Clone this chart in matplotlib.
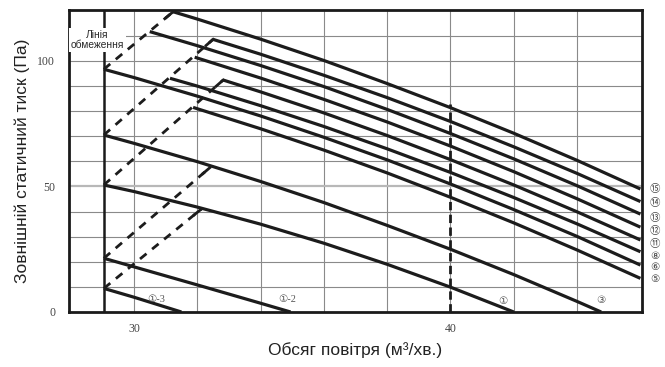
import matplotlib
matplotlib.use('Agg')
import matplotlib.pyplot as plt

# ---------------- data ----------------
x_tick_vals = [30, 40]
y_tick_vals = [0, 50, 100]
x_grid_vals = [30, 32, 34, 36, 38, 40, 42, 44]
y_grid_vals = [10, 20, 30, 40, 60, 70, 80, 90, 100, 110]
y_grid_light = [50]
limit_x = 29.05

# fan curves (air volume m3/min, external static pressure Pa)
c15_x = [31.24, 32, 34, 36, 38, 40, 42, 44, 46]
c15_y = [119.6, 116.7, 108.7, 100.2, 91.0, 81.4, 71.2, 60.4, 49.0]
c14_x = [32.5, 34, 36, 38, 40, 42, 44, 46]
c14_y = [108.6, 102.7, 94.3, 85.4, 75.9, 65.8, 55.2, 44.0]
c13_x = [30.5, 32, 34, 36, 38, 40, 42, 44, 46]
c13_y = [111.7, 106.1, 98.2, 89.8, 80.7, 71.1, 61.0, 50.3, 39.0]
c12_x = [31.92, 34, 36, 38, 40, 42, 44, 46]
c12_y = [101.5, 93.2, 84.7, 75.7, 66.1, 55.9, 45.1, 33.8]
c11_x = [32.82, 34, 36, 38, 40, 42, 44, 46]
c11_y = [92.4, 87.7, 79.3, 70.3, 60.7, 50.6, 39.9, 28.7]
c8_x = [31.14, 32, 34, 36, 38, 40, 42, 44, 46]
c8_y = [93.1, 90.0, 82.2, 73.9, 65.0, 55.6, 45.6, 35.1, 24.0]
c6_x = [29.05, 30, 32, 34, 36, 38, 40, 42, 44, 46]
c6_y = [96.7, 93.4, 86.0, 78.1, 69.6, 60.6, 51.0, 40.8, 30.1, 18.7]
c5_x = [31.87, 34, 36, 38, 40, 42, 44, 46]
c5_y = [81.5, 73.0, 64.5, 55.4, 45.7, 35.5, 24.7, 13.4]
c3_x = [29.05, 30, 32, 34, 36, 38, 40, 42, 44, 44.76]
c3_y = [70.5, 67.2, 59.9, 52.0, 43.6, 34.5, 25.0, 14.9, 4.2, 0]
c1_x = [29.05, 30, 32, 34, 36, 38, 40, 42]
c1_y = [50.6, 48.0, 41.8, 35.0, 27.4, 19.0, 9.9, 0]
c1b_x = [29.05, 30, 32, 34, 34.95]
c1b_y = [21.4, 18.0, 10.8, 3.5, 0]
c1c_x = [29.05, 30, 31.5]
c1c_y = [9.4, 5.9, 0]

curves_x = [c15_x, c14_x, c13_x, c12_x, c11_x, c8_x, c6_x, c5_x, c3_x, c1_x, c1b_x, c1c_x]
curves_y = [c15_y, c14_y, c13_y, c12_y, c11_y, c8_y, c6_y, c5_y, c3_y, c1_y, c1b_y, c1c_y]

# dashed limit lines (start on the limit line, end at a curve)
d1_x = [29.05, 31.24]; d1_y = [96.7, 119.6]
d2_x = [29.05, 32.5];  d2_y = [70.5, 108.6]
d3_x = [29.05, 32.82]; d3_y = [50.6, 92.4]
d4_x = [29.05, 32.4];  d4_y = [21.4, 57.5]
d5_x = [29.05, 32.13]; d5_y = [9.4, 41.0]
dashed_x = [d1_x, d2_x, d3_x, d4_x, d5_x]
dashed_y = [d1_y, d2_y, d3_y, d4_y, d5_y]
vdash_x = 40
vdash_top = 83

right_labels = ['⑮', '⑭', '⑬', '⑫', '⑪', '⑧', '⑥', '⑤']
right_label_y = [48.8, 43.6, 37.6, 32.4, 27.1, 22.3, 17.6, 13.1]
right_label_x = 46.45
bottom_labels = ['①-3', '①-2', '①', '③']
bottom_label_x = [30.7, 34.85, 41.67, 44.75]
bottom_label_y = [4.8, 4.8, 4.2, 4.5]

limit_text = 'Лінія\nобмеження'
xlabel = 'Обсяг повітря (м³/хв.)'
ylabel = 'Зовнішній статичний тиск (Па)'

# ---------------- drawing ----------------
fig = plt.figure(figsize=(6.65, 3.67), dpi=100)
ax = fig.add_axes([69/665, 1-312/367, (642-69)/665, (312-10)/367])
ax.set_xlim(27.95, 46.05)
ax.set_ylim(0, 120.3)

for gx in x_grid_vals:
    ax.axvline(gx, color='#8a8a8a', lw=0.8, zorder=1)
for gy in y_grid_vals:
    ax.axhline(gy, color='#8a8a8a', lw=0.8, zorder=1)
for gy in y_grid_light:
    ax.axhline(gy, color='#b8b8b8', lw=1.6, zorder=1)

ax.axvline(limit_x, color='#1a1a1a', lw=1.8, zorder=3)

line_col = '#1c1c1c'
for xs, ys in zip(curves_x, curves_y):
    ax.plot(xs, ys, color=line_col, lw=2.3, solid_capstyle='butt',
            solid_joinstyle='round', zorder=4)

for xs, ys in zip(dashed_x, dashed_y):
    ax.plot(xs, ys, color=line_col, lw=2.0, dashes=(3.0, 2.6), zorder=4)
    # short solid tick where the dashed line meets its curve
    fx = xs[1] - 0.22
    fy = ys[0] + (ys[1] - ys[0]) * (fx - xs[0]) / (xs[1] - xs[0])
    ax.plot([fx, xs[1]], [fy, ys[1]], color=line_col, lw=2.0, zorder=4)

ax.plot([vdash_x, vdash_x], [0, vdash_top], color=line_col, lw=2.0,
        dashes=(3.0, 1.6), zorder=4)

ax.text(28.85, 108.2, limit_text, ha='center', va='center', fontsize=7.4,
        family=['Liberation Sans Narrow', 'Liberation Sans', 'DejaVu Sans'],
        color='#2a2a2a', linespacing=1.0,
        bbox=dict(facecolor='white', edgecolor='none', pad=1.5), zorder=6)

circ_font = ['Liberation Serif', 'DejaVu Serif', 'DejaVu Sans', 'Noto Sans CJK JP']
for lab, ly in zip(right_labels, right_label_y):
    ax.text(right_label_x, ly, lab, ha='center', va='center', fontsize=7.5,
            family=circ_font, color='#444444', clip_on=False)
for lab, lx, ly in zip(bottom_labels, bottom_label_x, bottom_label_y):
    ax.text(lx, ly, lab, ha='center', va='center', fontsize=7.5,
            family=circ_font, color='#555555', zorder=5)

for s in ax.spines.values():
    s.set_linewidth(2.0)
    s.set_color('#1a1a1a')

ax.set_xticks(x_tick_vals)
ax.set_yticks(y_tick_vals)
ax.tick_params(axis='both', length=0, labelsize=8.5, colors='#444444')
ax.tick_params(axis='x', pad=8)
ax.tick_params(axis='y', pad=10)
for t in ax.get_xticklabels() + ax.get_yticklabels():
    t.set_family(['Liberation Serif', 'DejaVu Serif'])

ax.set_xlabel(xlabel, fontsize=12.5, family=['Liberation Sans', 'DejaVu Sans'],
              color='#222222', labelpad=5)
ax.set_ylabel(ylabel, fontsize=12.5, family=['Liberation Sans', 'DejaVu Sans'],
              color='#222222', labelpad=5)

fig.savefig('out.png', dpi=100)
